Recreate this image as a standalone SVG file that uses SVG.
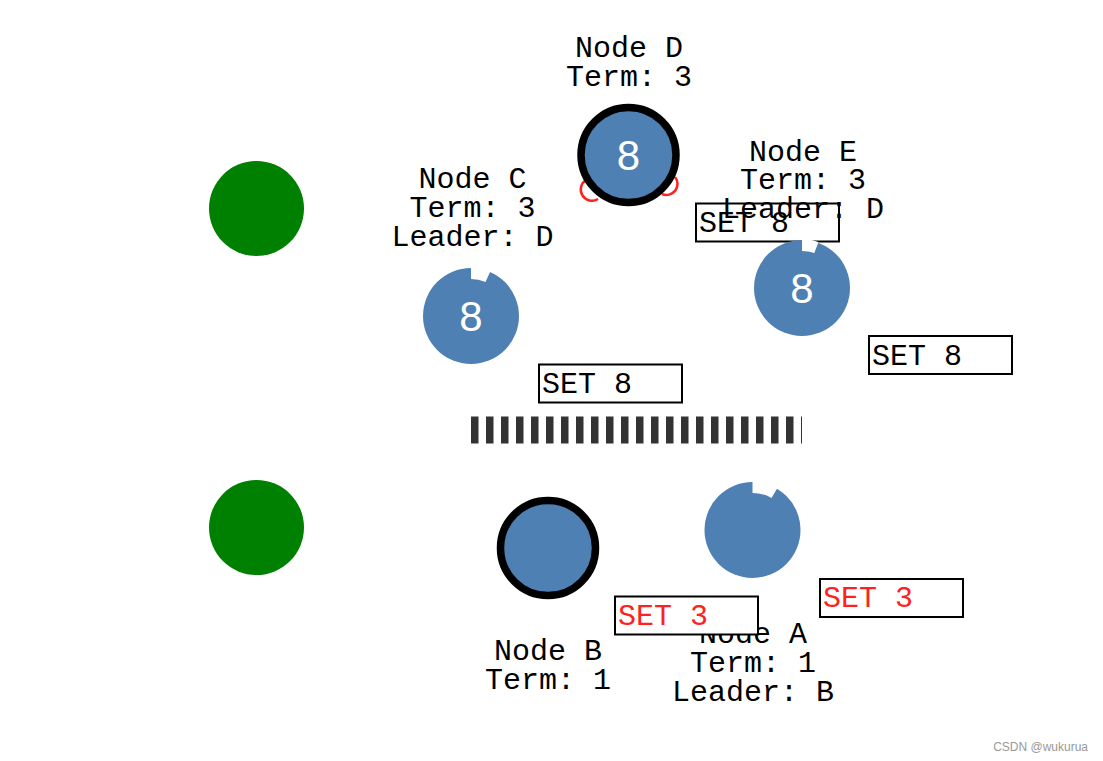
<svg xmlns="http://www.w3.org/2000/svg" width="1103" height="761" viewBox="0 0 1103 761">
<style>
.lbl{font-family:"Liberation Mono","Courier New",monospace;font-size:30px;fill:#000;text-anchor:middle}
.set{font-family:"Liberation Mono","Courier New",monospace;font-size:30px;fill:#000}
.red{fill:#ff2020}
.box{fill:#fff;stroke:#000;stroke-width:2}
.node{fill:#4e80b3}
.lead{fill:#4e80b3;stroke:#000;stroke-width:7.5}
.num{font-family:"Liberation Sans",Arial,sans-serif;font-size:42px;fill:#fff;text-anchor:middle}
.notch{fill:#fff}
.green{fill:#008000}
</style>
<rect width="1103" height="761" fill="#fff"/>
<g id="client1"><circle class="green" cx="256.5" cy="208.5" r="47.5"/></g>
<g id="client2"><circle class="green" cx="256.5" cy="527.5" r="47.5"/></g>
<g id="connectors">
<line x1="471" y1="430" x2="802" y2="430" stroke="#333" stroke-width="27" stroke-dasharray="7.5 7.5"/>
</g>
<g id="nodeD">
<path d="M586,180 A11 11 0 0 0 598,199" fill="none" stroke="#ff2020" stroke-width="2.5"/>
<path d="M675,177 A11 11 0 0 1 662,194" fill="none" stroke="#ff2020" stroke-width="2.5"/>
<circle class="lead" cx="628.5" cy="155" r="47.5"/>
<text class="num" x="628.5" y="170">8</text>
<text class="lbl" x="629" y="57">Node D</text>
<text class="lbl" x="629" y="86">Term: 3</text>
</g>
<g id="nodeC">
<circle class="node" cx="471" cy="316" r="48"/>
<path class="notch" d="M471,267 L471,279 A37 37 0 0 1 485.5,282 L490.5,271 A49 49 0 0 0 471,267 Z"/>
<text class="num" x="471" y="331">8</text>
<text class="lbl" x="472.5" y="188">Node C</text>
<text class="lbl" x="472.5" y="217">Term: 3</text>
<text class="lbl" x="472.5" y="246">Leader: D</text>
</g>
<g id="set1">
<rect class="box" x="696" y="203.5" width="143" height="38"/>
<text class="set" x="699" y="232">SET 8</text>
</g>
<g id="nodeE">
<circle class="node" cx="802" cy="288" r="48"/>
<path class="notch" d="M802,239 L802,251 A37 37 0 0 1 814.3,253 L818.5,242 A49 49 0 0 0 802,239 Z"/>
<text class="num" x="802" y="303">8</text>
<text class="lbl" x="803" y="161">Node E</text>
<text class="lbl" x="803" y="189">Term: 3</text>
<text class="lbl" x="803" y="218">Leader: D</text>
</g>
<g id="set2">
<rect class="box" x="869" y="336" width="143" height="38"/>
<text class="set" x="872" y="365">SET 8</text>
</g>
<g id="set3">
<rect class="box" x="539" y="364.5" width="143" height="38"/>
<text class="set" x="542" y="393">SET 8</text>
</g>
<g id="nodeB">
<circle class="lead" cx="548" cy="548" r="47.5"/>
<text class="lbl" x="548" y="660">Node B</text>
<text class="lbl" x="548" y="689">Term: 1</text>
</g>
<g id="nodeA">
<circle class="node" cx="752.5" cy="530" r="48"/>
<path class="notch" d="M752.5,481 L752.5,493 A37 37 0 0 1 771.5,498 L777.5,488 A49 49 0 0 0 752.5,481 Z"/>
<text class="lbl" x="753" y="643">Node A</text>
<text class="lbl" x="753" y="672">Term: 1</text>
<text class="lbl" x="753" y="701">Leader: B</text>
</g>
<g id="set4">
<rect class="box" x="615" y="596.5" width="143" height="38"/>
<text class="set red" x="618" y="625">SET 3</text>
</g>
<g id="set5">
<rect class="box" x="820" y="579" width="143" height="38"/>
<text class="set red" x="823" y="607">SET 3</text>
</g>
<text x="1088" y="751" font-family="Liberation Sans,Arial,sans-serif" font-size="12" fill="#999" text-anchor="end">CSDN @wukurua</text>
</svg>
